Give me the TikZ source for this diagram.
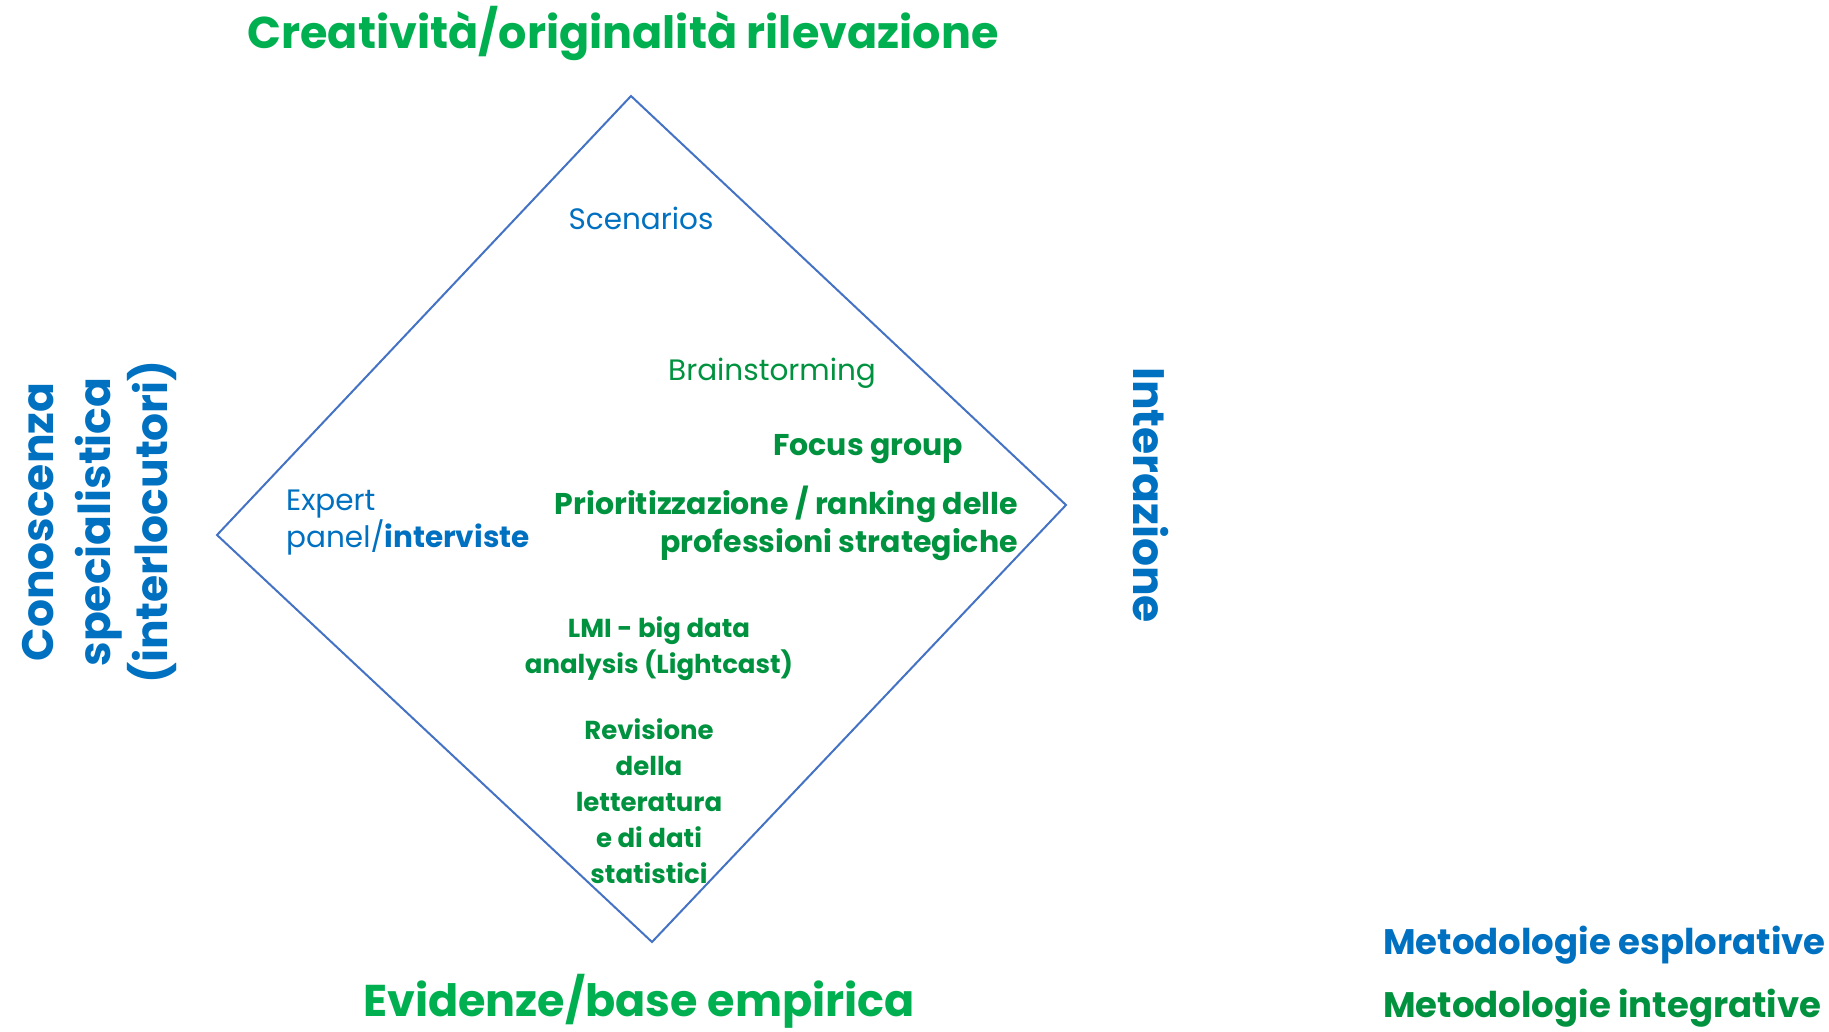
\documentclass[tikz,border=0pt]{standalone}
\usepackage{fontspec}
\setmainfont{Poppins}
\usetikzlibrary{positioning}
\definecolor{ppblue}{HTML}{0070C0}
\definecolor{ppgreen}{HTML}{00B050}
\definecolor{darkgreen}{HTML}{00923F}
\definecolor{edgeblue}{HTML}{4472C4}
\tikzset{
  % big axis labels
  axis/.style={inner sep=0pt, font=\fontsize{44.5}{50}\selectfont\bfseries},
  sideaxis/.style={inner sep=0pt, align=center, font=\fontsize{44}{57}\selectfont\bfseries},
  % methods inside the diamond
  explore/.style={inner sep=0pt, text=ppblue, font=\fontsize{29.5}{37}\selectfont},
  integr/.style={inner sep=0pt, text=darkgreen, font=\fontsize{29.5}{37}\selectfont},
  strong/.style={integr, font=\fontsize{26}{36}\selectfont\bfseries},
  stronger/.style={integr, font=\fontsize{30}{38}\selectfont\bfseries},
  % legend
  legend/.style={inner sep=0pt, anchor=base west, font=\fontsize{35.5}{40}\selectfont\bfseries},
}

\begin{document}
\begin{tikzpicture}[x=1pt, y=-1pt]
  \useasboundingbox (0,0) rectangle (1829,1032);

  % the diamond
  \coordinate (top) at (631,96);
  \coordinate (right) at (1066,505);
  \coordinate (bottom) at (652,942);
  \coordinate (left) at (217,535);
  \draw[edgeblue, line width=2pt] (top) -- (right) -- (bottom) -- (left) -- cycle;

  % axes
  \node[axis, text=ppgreen, anchor=base] (creat) at (623,49) {Creatività/originalità rilevazione};
  \node[axis, text=ppgreen, anchor=base] (evid) at (639,1016) {Evidenze/base empirica};
  \node[sideaxis, text=ppblue, rotate=-90] (inter) at (1151,495) {Interazione};
  \node[sideaxis, text=ppblue, rotate=90] (conosc) at (99,522) {Conoscenza\\specialistica\\(interlocutori)};

  % methods
  \node[explore, anchor=base] (scen) at (641,230) {Scenarios};
  \node[integr, anchor=base west] (brain) at (668,380) {Brainstorming};
  \node[stronger, anchor=base west] (focus) at (773,455) {Focus group};
  \node[stronger, anchor=east, align=right] (prior) at (1018,523) {Prioritizzazione / ranking delle\\professioni strategiche};
  \node[explore, anchor=west, align=left] (expert) at (286,523) {Expert\\panel/\textbf{interviste}};
  \node[strong, align=center] (lmi) at (659,649) {LMI - big data\\analysis (Lightcast)};
  \node[strong, align=center] (revis) at (649,801) {Revisione\\della\\letteratura\\e di dati\\statistici};

  % legend
  \node[legend, text=ppblue] (esplor) at (1383,954) {Metodologie esplorative};
  \node[legend, text=darkgreen] (integ) at (1383,1017) {Metodologie integrative};
\end{tikzpicture}
\end{document}
